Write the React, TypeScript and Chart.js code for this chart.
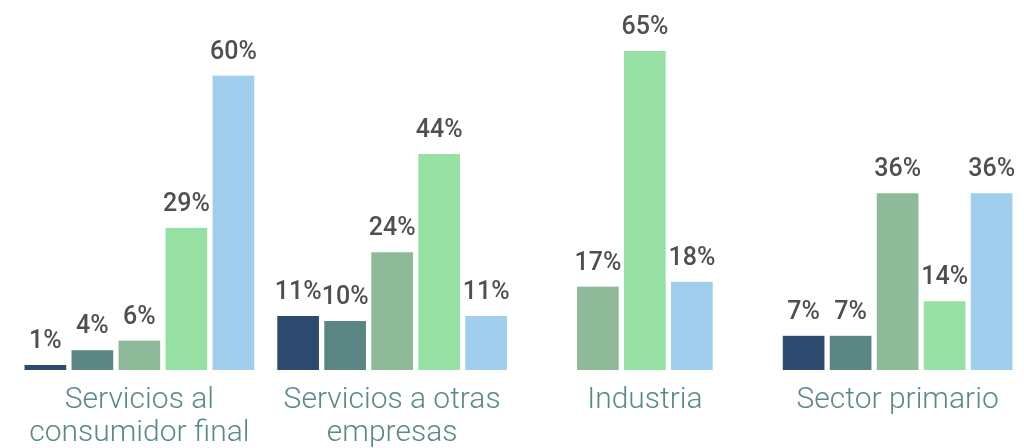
import React, { useEffect, useRef } from "react";
import { Chart, registerables } from "chart.js";

Chart.register(...registerables);

const categories: (string | string[])[] = [
  ["Servicios al", "consumidor final"],
  ["Servicios a otras", "empresas"],
  "Industria",
  "Sector primario",
];

const serie1: (number | null)[] = [1, 11, null, 7];
const serie2: (number | null)[] = [4, 10, null, 7];
const serie3: (number | null)[] = [6, 24, 17, 36];
const serie4: (number | null)[] = [29, 44, 65, 14];
const serie5: (number | null)[] = [60, 11, 18, 36];

const seriesNames = ["Serie 1", "Serie 2", "Serie 3", "Serie 4", "Serie 5"];
const seriesColors = ["#2b4a6e", "#5a8582", "#8eba99", "#96e0a4", "#a0ceec"];

const valueLabels = {
  id: "valueLabels",
  afterDatasetsDraw(chart: any) {
    const ctx = chart.ctx;
    ctx.save();
    ctx.font = "500 25px Roboto";
    ctx.fillStyle = "#4f4f4f";
    ctx.textAlign = "center";
    ctx.textBaseline = "alphabetic";
    chart.data.datasets.forEach((ds: any, i: number) => {
      const meta = chart.getDatasetMeta(i);
      meta.data.forEach((el: any, j: number) => {
        const v = ds.data[j];
        if (v === null || v === undefined) return;
        ctx.fillText(`${v}%`, el.x, el.y - 17);
      });
    });
    ctx.restore();
  },
};

export default function App() {
  const ref = useRef<HTMLCanvasElement>(null);
  useEffect(() => {
    if (!ref.current) return;
    const all = [serie1, serie2, serie3, serie4, serie5];
    const chart = new Chart(ref.current, {
      type: "bar",
      data: {
        labels: categories,
        datasets: all.map((d, i) => ({
          label: seriesNames[i],
          data: d,
          backgroundColor: seriesColors[i],
          borderColor: "#ffffff",
          borderWidth: { left: 3, right: 3, top: 0, bottom: 0 },
          borderSkipped: false,
          barThickness: 47,
          skipNull: true,
        })) as any,
      },
      options: {
        animation: false,
        responsive: false,
        layout: { padding: { left: 13, top: 2, right: 0, bottom: 0 } },
        plugins: { legend: { display: false }, tooltip: { enabled: false } },
        scales: {
          x: {
            grid: { display: false, drawTicks: false },
            border: { display: false },
            ticks: {
              color: "#5a8a87",
              font: { family: "Roboto", size: 30, weight: "300" as any, lineHeight: 1.11 },
              padding: 14,
              maxRotation: 0,
              autoSkip: false,
            },
            afterFit: (scale: any) => {
              scale.height = 78;
            },
          },
          y: {
            display: false,
            min: 0,
            max: 75,
          },
        },
      },
      plugins: [valueLabels],
    });
    return () => chart.destroy();
  }, []);
  return (
    <div style={{ position: "absolute", left: 0, top: 0, width: 1024, height: 448, background: "#fff" }}>
      <canvas ref={ref} width={1024} height={448} />
    </div>
  );
}
